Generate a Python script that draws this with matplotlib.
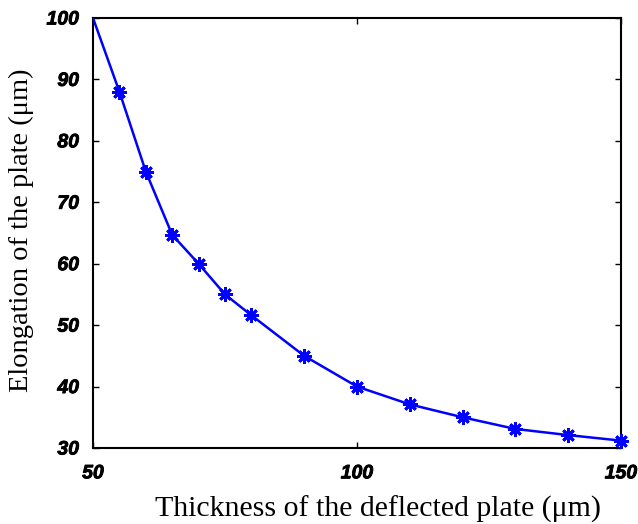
import matplotlib
matplotlib.use("Agg")
import matplotlib.pyplot as plt
import matplotlib.patheffects as pe

thickness = [50, 55, 60, 65, 70, 75, 80, 90, 100, 110, 120, 130, 140, 150]
elongation = [100, 88, 75, 64.7, 60, 55, 51.6, 45, 40, 37.1, 35, 33.1, 32.1, 31.2]
x_ticks = [50, 100, 150]
y_ticks = [30, 40, 50, 60, 70, 80, 90, 100]

fig = plt.figure(figsize=(6.38, 5.24), dpi=100)
ax = fig.add_axes([93/638, 1-448/524, (621-93)/638, (448-18)/524])

ax.plot(thickness, elongation, color='#0000ff', lw=1.8, zorder=3)
ax.plot(thickness[1:], elongation[1:], ls='none', marker=(8, 2, 0),
        markersize=10.5, mew=2.0, color='#0000ff', zorder=4, clip_on=False)

ax.set_xlim(50, 150)
ax.set_ylim(30, 100)
ax.set_xticks(x_ticks)
ax.set_yticks(y_ticks)
ax.tick_params(direction='in', top=True, right=True, length=4.5, width=1)
ax.tick_params(axis='x', pad=12.5)
ax.tick_params(axis='y', pad=10)
for lab in ax.get_xticklabels() + ax.get_yticklabels():
    lab.set_fontfamily('Liberation Sans')
    lab.set_fontweight('bold')
    lab.set_fontstyle('italic')
    lab.set_fontsize(14)
    lab.set_path_effects([pe.withStroke(linewidth=0.6, foreground='black')])
for s in ax.spines.values():
    s.set_linewidth(1.5)

ax.set_xlabel('Thickness of the deflected plate (\u03bcm)', family='Liberation Serif',
              fontsize=21.5, va='baseline')
ax.xaxis.set_label_coords(0.540, -0.1605)
ax.set_ylabel('Elongation of the plate (\u03bcm)', family='Liberation Serif',
              fontsize=20.5)
ax.yaxis.set_label_coords(-0.112, 0.507)

fig.savefig('out.png', dpi=100)
